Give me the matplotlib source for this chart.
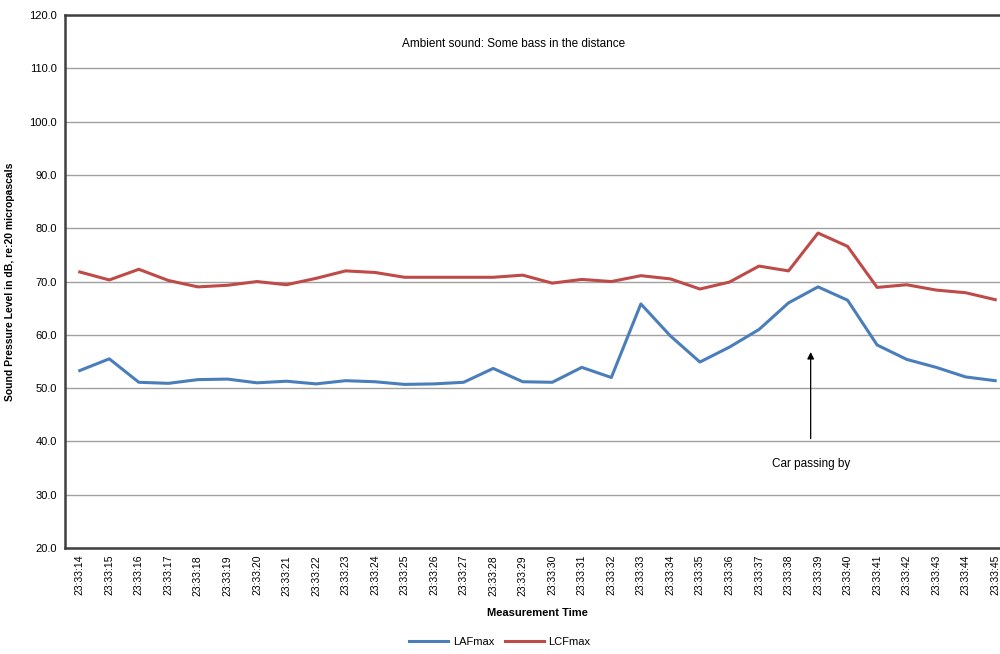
import numpy as np
import matplotlib
matplotlib.use("Agg")
import matplotlib.pyplot as plt

plt.rcParams['font.family'] = ['Liberation Sans', 'DejaVu Sans']

times = ["23:33:%02d" % s for s in range(14, 46)]
lafmax = [53.3, 55.5, 51.1, 50.9, 51.6, 51.7, 51.0, 51.3, 50.8, 51.4, 51.2, 50.7,
          50.8, 51.1, 53.7, 51.2, 51.1, 53.9, 52.0, 65.8, 59.8, 54.9, 57.7, 61.0,
          66.0, 69.0, 66.5, 58.1, 55.4, 53.9, 52.1, 51.4]
lcfmax = [71.8, 70.3, 72.3, 70.2, 69.0, 69.3, 70.0, 69.4, 70.6, 72.0, 71.7, 70.8,
          70.8, 70.8, 70.8, 71.2, 69.7, 70.4, 70.0, 71.1, 70.5, 68.6, 69.9, 72.9,
          72.0, 79.1, 76.6, 68.9, 69.4, 68.4, 67.9, 66.6]
yticks = np.arange(20, 121, 10)

fig = plt.figure(figsize=(10, 6.54), dpi=100)
ax = fig.add_axes([0.065, 0.162, 0.945, 0.815])

x = np.arange(len(times))
ax.plot(x, lafmax, color='#4a7ebb', lw=2.2, label='LAFmax')
ax.plot(x, lcfmax, color='#be4b48', lw=2.2, label='LCFmax')

ax.set_xlim(-0.5, len(times) - 0.5)
ax.set_ylim(20, 120)
ax.set_yticks(yticks)
ax.set_yticklabels(["%.1f" % v for v in yticks], fontsize=8)
ax.set_xticks(x)
ax.set_xticklabels(times, rotation=90, fontsize=7.5)
ax.tick_params(axis='both', length=0, pad=6)
ax.tick_params(axis='x', pad=5)
ax.yaxis.grid(True, color='#a0a0a0', lw=1)
ax.set_axisbelow(True)

for s in ['left', 'bottom', 'top']:
    ax.spines[s].set_color('#404040')
    ax.spines[s].set_linewidth(1.8)
ax.spines['right'].set_visible(False)

ax.set_ylabel('Sound Pressure Level in dB, re:20 micropascals', fontsize=7.5, fontweight='bold', labelpad=10)
ax.set_xlabel('Measurement Time', fontsize=8, fontweight='bold', labelpad=9)

ax.text(14.7, 114.5, 'Ambient sound: Some bass in the distance', fontsize=8.5, ha='center', va='center')
ax.text(24.75, 35.8, 'Car passing by', fontsize=8.5, ha='center', va='center')
ax.annotate('', xy=(24.75, 57.3), xytext=(24.75, 40),
            arrowprops=dict(arrowstyle='-|>', color='black', lw=0.9, mutation_scale=10))

fig.legend(loc='lower center', bbox_to_anchor=(0.5, -0.005), ncol=2, frameon=False,
           fontsize=8, handlelength=3.5, columnspacing=1.0, handletextpad=0.4)

fig.savefig('out.png', dpi=100)
